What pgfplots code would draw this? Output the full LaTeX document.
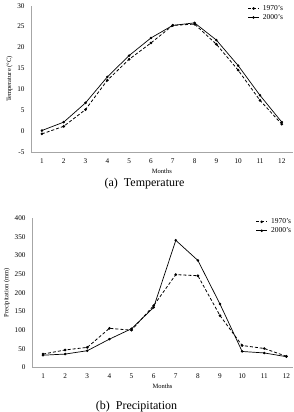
\documentclass[border=0pt]{standalone}
\usepackage{fontspec}
\setmainfont{Liberation Serif}
\usepackage{pgfplots}
\pgfplotsset{compat=1.18}

\pgfplotsset{
  climate/.style={
    scale only axis,
    axis x line*=bottom,
    axis y line*=left,
    axis line style={gray!70, line width=0.6pt},
    xmin=0.5,
    xtick={1,...,12},
    major tick length=0pt,
    ticklabel style={font=\fontsize{7.2}{8}\selectfont},
    xticklabel style={yshift=-3pt},
    yticklabel style={xshift=-3pt},
    xlabel={Months},
    xlabel style={font=\fontsize{6.5}{7}\selectfont, yshift=2pt},
    ylabel style={font=\fontsize{6.5}{7}\selectfont},
    /pgf/number format/assume math mode=true,
    legend style={draw=none, fill=none, font=\fontsize{7.5}{8}\selectfont,
      inner sep=1pt, row sep=-1.5pt,
      /tikz/every odd column/.append style={column sep=1.5pt}},
    legend cell align=left,
    legend image code/.code={
      \draw[mark repeat=2, mark phase=2, #1]
        plot coordinates {(0pt,0pt) (5.5pt,0pt) (11pt,0pt)};},
    clip=false,
  },
  s70/.style={black, densely dashed, line width=0.8pt, mark=*, mark size=0.9pt,
    mark options={solid}},
  s00/.style={black, solid, line width=0.7pt, mark=*, mark size=0.9pt},
}

\begin{document}
\begin{tikzpicture}
\useasboundingbox (0pt,0pt) rectangle (294pt,412pt);

% (a) monthly mean temperature
\begin{axis}[climate,
  at={(31pt,259.7pt)}, anchor=south west,
  width=261.7pt, height=146.6pt,
  xmax=12.5, ymin=-5, ymax=30, ytick={-5,0,...,30},
  ylabel={Temperature (\textdegree C)},
  ylabel style={yshift=-2pt},
  legend style={at={(0.975,1.025)}, anchor=north east},
]
\addplot[s70] coordinates {
  (1,-0.6) (2,1.2) (3,5.2) (4,12.2) (5,17.2) (6,21.1)
  (7,25.3) (8,25.6) (9,20.8) (10,14.6) (11,7.4) (12,1.7)};
\addlegendentry{1970's}
\addplot[s00] coordinates {
  (1,0.2) (2,2.2) (3,6.8) (4,13.0) (5,18.1) (6,22.3)
  (7,25.3) (8,25.9) (9,21.8) (10,15.7) (11,8.6) (12,2.2)};
\addlegendentry{2000's}
\end{axis}
\node[font=\fontsize{12}{14}\selectfont] at (144.5pt,228pt) {(a)\ \ Temperature};

% (b) monthly precipitation
\begin{axis}[climate,
  at={(32pt,44.5pt)}, anchor=south west,
  width=261pt, height=149.2pt,
  xmax=12.3, ymin=0, ymax=400, ytick={0,50,...,400},
  ylabel={Precipitation (mm)},
  ylabel style={yshift=-2pt},
  legend style={at={(1.005,1.02)}, anchor=north east},
]
\addplot[s70] coordinates {
  (1,36) (2,47) (3,54) (4,105) (5,100) (6,166)
  (7,249) (8,246) (9,139) (10,59) (11,51) (12,30)};
\addlegendentry{1970's}
\addplot[s00] coordinates {
  (1,33) (2,36) (3,45) (4,76) (5,104) (6,161)
  (7,341) (8,287) (9,170) (10,43) (11,39) (12,29)};
\addlegendentry{2000's}
\end{axis}
\node[font=\fontsize{12}{14}\selectfont] at (136.5pt,5.3pt) {(b)\ \ Precipitation};
\end{tikzpicture}
\end{document}
